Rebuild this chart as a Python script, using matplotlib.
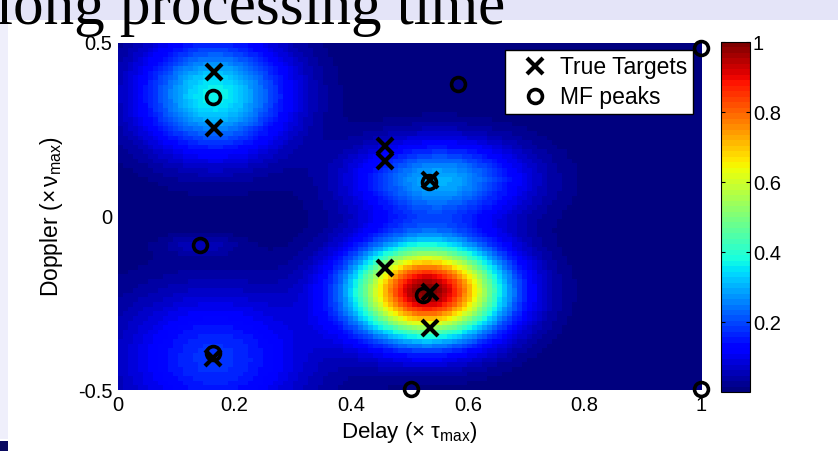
import numpy as np
import matplotlib
matplotlib.use("Agg")
import matplotlib.pyplot as plt
from matplotlib.patches import Rectangle

plt.rcParams['font.family'] = ['Liberation Sans', 'DejaVu Sans']
plt.rcParams['mathtext.fontset'] = 'custom'
plt.rcParams['mathtext.rm'] = 'Liberation Sans'
plt.rcParams['mathtext.it'] = 'Liberation Sans'

# ---- data ----
# True target locations (delay, doppler)
true_delay = [0.165, 0.165, 0.458, 0.458, 0.535, 0.458, 0.535, 0.535, 0.163]
true_doppler = [0.416, 0.255, 0.203, 0.160, 0.105, -0.148, -0.218, -0.321, -0.408]
# matched-filter peaks
mf_delay = [0.163, 1.0, 0.583, 0.533, 0.141, 0.523, 0.163, 0.503, 1.0]
mf_doppler = [0.344, 0.486, 0.382, 0.099, -0.082, -0.226, -0.393, -0.497, -0.497]
# ambiguity surface lobes
lobe_delay = [0.165, 0.550, 0.530, 0.165, 0.140]
lobe_doppler = [0.350, 0.105, -0.215, -0.410, -0.082]
lobe_amp = [0.37, 0.30, 1.00, 0.18, 0.05]
lobe_sd_delay = [0.086, 0.098, 0.088, 0.115, 0.045]
lobe_sd_doppler = [0.115, 0.078, 0.095, 0.140, 0.020]
n_delay_cells = 117
n_doppler_cells = 75

x_ticks = [0, 0.2, 0.4, 0.6, 0.8, 1]
x_ticklabels = ['0', '0.2', '0.4', '0.6', '0.8', '1']
y_ticks = [-0.5, 0, 0.5]
y_ticklabels = ['-0.5', '0', '0.5']
cb_ticks = [0.2, 0.4, 0.6, 0.8, 1.0]
cb_ticklabels = ['0.2', '0.4', '0.6', '0.8', '1']

# ---- surface ----
dc = (np.arange(n_delay_cells) + 0.5) / n_delay_cells
vc = (np.arange(n_doppler_cells) + 0.5) / n_doppler_cells - 0.5
D, V = np.meshgrid(dc, vc)
Z = np.zeros_like(D)
for d0, v0, a, sd, sv in zip(lobe_delay, lobe_doppler, lobe_amp, lobe_sd_delay, lobe_sd_doppler):
    Z += a * np.exp(-((D - d0) ** 2) / (2 * sd ** 2) - ((V - v0) ** 2) / (2 * sv ** 2))
Z = np.clip(Z, 0, 1)

W, H = 838, 451
fig = plt.figure(figsize=(W / 100, H / 100), dpi=100)
fig.patch.set_facecolor('white')

# slide decorations
lav = '#e4e4f8'
fig.add_artist(Rectangle((0, 1 - 20 / H), 1, 20 / H, transform=fig.transFigure,
                         facecolor=lav, edgecolor='none', zorder=0))
fig.add_artist(Rectangle((0, 12 / H), 8 / W, 1 - 32 / H, transform=fig.transFigure,
                         facecolor='#efeffb', edgecolor='none', zorder=0))
fig.add_artist(Rectangle((0, 0), 8 / W, 10 / H, transform=fig.transFigure,
                         facecolor='#0a0a60', edgecolor='none', zorder=0))
fig.text(-4 / W, 1 - 24 / H, 'long processing time', family='Liberation Serif',
         fontsize=44, ha='left', va='baseline', color='black')

cmap = plt.get_cmap('jet', 64)
ax = fig.add_axes([118 / W, (H - 390) / H, 583 / W, 347 / H])
im = ax.imshow(Z, origin='lower', extent=[0, 1, -0.5, 0.5], aspect='auto',
               cmap=cmap, vmin=0, vmax=1, interpolation='nearest')
ax.plot(true_delay, true_doppler, 'x', color='black', ms=11, mew=3,
        label='True Targets', clip_on=False, zorder=3)
ax.plot(mf_delay, mf_doppler, 'o', color='black', mfc='none', ms=10, mew=2.6,
        label='MF peaks', clip_on=False, zorder=3)
ax.set_xlim(0, 1)
ax.set_ylim(-0.5, 0.5)
for s in ax.spines.values():
    s.set_visible(False)
ax.set_xticks(x_ticks)
ax.set_xticklabels(x_ticklabels)
ax.set_yticks(y_ticks)
ax.set_yticklabels(y_ticklabels)
ax.tick_params(length=0, labelsize=14.5, pad=4)
ax.set_xlabel(r'Delay ($\times\ \tau_{\rm max}$)', fontsize=16, labelpad=4)
ax.set_ylabel(r'Doppler ($\times\,\nu_{\rm max}$)', fontsize=16.5, labelpad=9)

leg = ax.legend(loc='upper right', bbox_to_anchor=(693 / W, 1 - 50 / H),
                bbox_transform=fig.transFigure, fontsize=16.5, frameon=True,
                fancybox=False, borderpad=0.25, handletextpad=0.05,
                handlelength=2.1, labelspacing=0.3, borderaxespad=0)
leg.get_frame().set_edgecolor('black')
leg.get_frame().set_linewidth(1.0)
leg.get_frame().set_alpha(1)

cax = fig.add_axes([721 / W, (H - 392) / H, 29 / W, 350 / H])
cb = fig.colorbar(im, cax=cax)
cb.set_ticks(cb_ticks)
cb.set_ticklabels(cb_ticklabels)
cb.ax.tick_params(direction='in', length=3, labelsize=14.5, pad=2, left=True, right=True)
cb.outline.set_linewidth(0.8)

fig.savefig('out.png', dpi=100, facecolor=fig.get_facecolor())
